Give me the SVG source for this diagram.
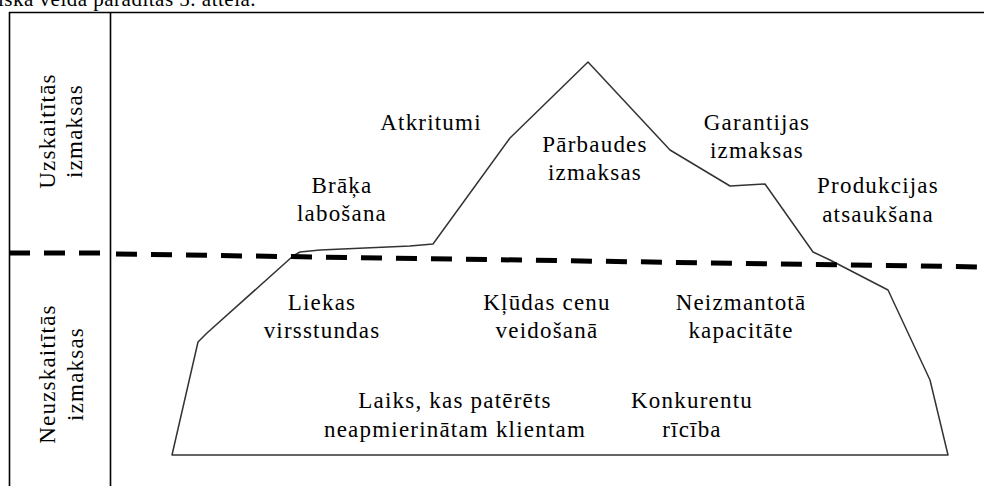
<svg xmlns="http://www.w3.org/2000/svg" width="984" height="486" viewBox="0 0 984 486">
<style>
.t{font-family:"Liberation Serif","Times New Roman",serif;font-size:23px;fill:#000;letter-spacing:1.2px}
.top{font-size:21px;letter-spacing:0.5px}
.c{text-anchor:middle}
.frame{fill:none;stroke:#000;stroke-width:1.6}
.berg{fill:none;stroke:#333;stroke-width:1.5;stroke-linejoin:round}
.dash{fill:none;stroke:#000;stroke-width:5;stroke-dasharray:21 14}
</style>
<rect width="984" height="486" fill="#fff"/>
<text class="t top" x="-2" y="6">iska veida parādītas 5. attēlā.</text>
<g id="frame">
<line class="frame" x1="9" y1="12.5" x2="984" y2="12.5"/>
<line class="frame" x1="9.5" y1="12" x2="9.5" y2="486"/>
<line class="frame" x1="110.5" y1="12" x2="110.5" y2="486"/>
</g>
<g id="row-uzskaititas">
<text class="t c" transform="translate(55,131) rotate(-90)">Uzskaitītās</text>
<text class="t c" transform="translate(82,131) rotate(-90)">izmaksas</text>
</g>
<g id="row-neuzskaititas">
<text class="t c" transform="translate(55,374) rotate(-90)">Neuzskaitītās</text>
<text class="t c" transform="translate(83,374) rotate(-90)">izmaksas</text>
</g>
<g id="iceberg">
<polygon class="berg" points="172,455 198,342 207,333 293,256 300,252 320,250 365,248 410,246 433,244 510,138 588,62 670,150 730,186 765,184 813,252 830,260 888,290 930,380 948,455"/>
</g>
<g id="connectors">
<line class="dash" x1="9" y1="253" x2="110" y2="253"/>
<line class="dash" x1="116" y1="254" x2="984" y2="267"/>
</g>
<g id="n-atkritumi"><text class="t c" x="431" y="130">Atkritumi</text></g>
<g id="n-braka"><text class="t c" x="342" y="193">Brāķa</text><text class="t c" x="342" y="221">labošana</text></g>
<g id="n-parbaudes"><text class="t c" x="595" y="152">Pārbaudes</text><text class="t c" x="595" y="180">izmaksas</text></g>
<g id="n-garantijas"><text class="t c" x="757" y="130">Garantijas</text><text class="t c" x="757" y="158">izmaksas</text></g>
<g id="n-produkcijas"><text class="t c" x="878" y="193">Produkcijas</text><text class="t c" x="878" y="222">atsaukšana</text></g>
<g id="n-liekas"><text class="t c" x="322" y="310">Liekas</text><text class="t c" x="322" y="338">virsstundas</text></g>
<g id="n-kludas"><text class="t c" x="547" y="310">Kļūdas cenu</text><text class="t c" x="547" y="338">veidošanā</text></g>
<g id="n-neizmantota"><text class="t c" x="741" y="310">Neizmantotā</text><text class="t c" x="741" y="338">kapacitāte</text></g>
<g id="n-laiks"><text class="t c" x="455" y="408">Laiks, kas patērēts</text><text class="t c" x="455" y="437">neapmierinātam klientam</text></g>
<g id="n-konkurentu"><text class="t c" x="692" y="408">Konkurentu</text><text class="t c" x="692" y="437">rīcība</text></g>
</svg>
